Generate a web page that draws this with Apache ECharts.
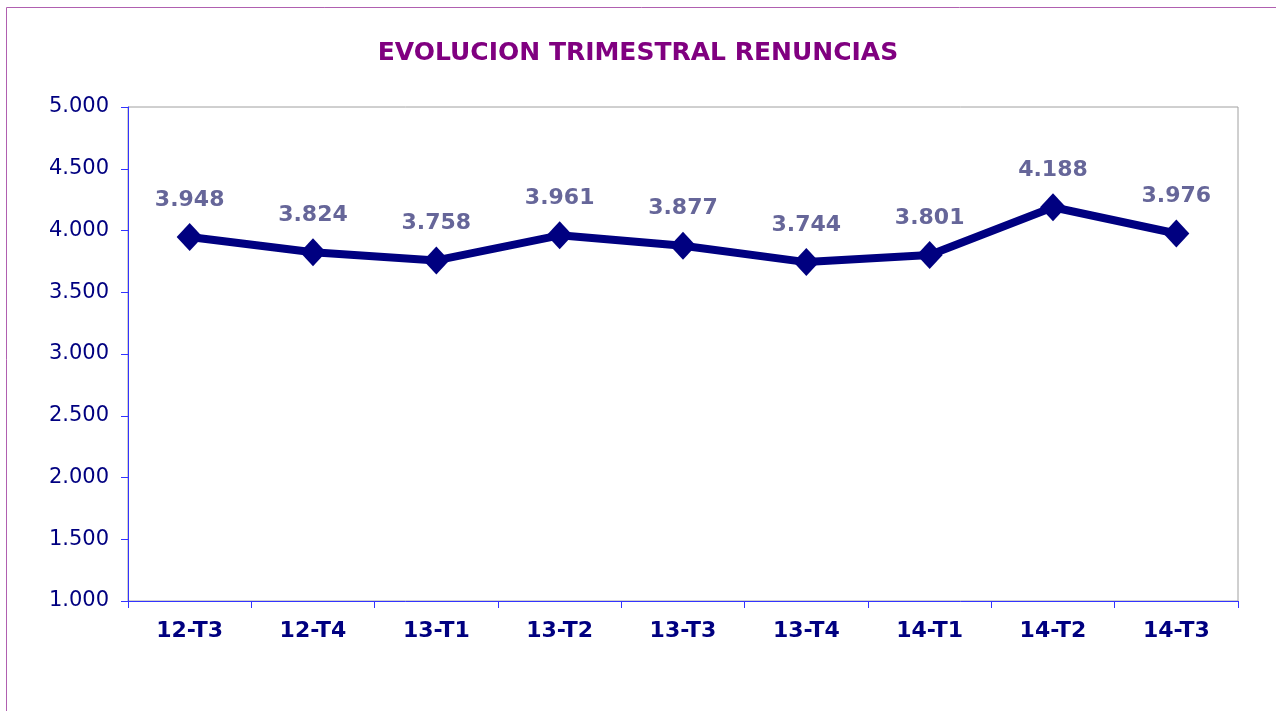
<!DOCTYPE html>
<html>
<head>
<meta charset="utf-8">
<script src="https://cdn.jsdelivr.net/npm/echarts@6/dist/echarts.min.js"></script>
<style>
  html, body { margin: 0; padding: 0; background: #fff; }
  #chart { width: 1276px; height: 711px; }
</style>
</head>
<body>
<div id="chart"></div>
<script>
// trimestres
const quarters = ['12-T3', '12-T4', '13-T1', '13-T2', '13-T3', '13-T4', '14-T1', '14-T2', '14-T3'];
// renuncias por trimestre
const renuncias = [3948, 3824, 3758, 3961, 3877, 3744, 3801, 4188, 3976];

const fmt = v => {
  // separador de miles con punto
  return String(v).replace(/\B(?=(\d{3})+(?!\d))/g, '.');
};

let chart = echarts.init(document.getElementById('chart'));

let option = {
  backgroundColor: '#fff',
  textStyle: { fontFamily: 'DejaVu Sans' },
  title: {
    text: 'EVOLUCION TRIMESTRAL RENUNCIAS',
    left: 'center',
    top: 36,
    textStyle: {
      color: '#800080',
      fontSize: 25,
      fontWeight: 'bold',
      fontFamily: 'DejaVu Sans'
    }
  },
  graphic: [
    {
      type: 'rect',
      shape: { x: 6.5, y: 7.5, width: 1280, height: 720 },
      style: { fill: 'none', stroke: '#b060b0', lineWidth: 1 },
      silent: true
    }
  ],
  grid: {
    left: 128,
    top: 107,
    right: 38,
    bottom: 110,
    show: true,
    borderColor: '#a0a0a0',
    borderWidth: 1,
    backgroundColor: 'transparent'
  },
  xAxis: {
    type: 'category',
    data: quarters,
    boundaryGap: true,
    axisLine: { lineStyle: { color: '#3333ff', width: 1 } },
    axisTick: { show: true, length: 7, inside: false, lineStyle: { color: '#3333ff' } },
    axisLabel: {
      color: '#000080',
      fontSize: 22,
      fontWeight: 'bold',
      margin: 19,
      fontFamily: 'DejaVu Sans'
    },
    splitLine: { show: false }
  },
  yAxis: {
    type: 'value',
    min: 1000,
    max: 5000,
    interval: 500,
    axisLine: { show: true, lineStyle: { color: '#3333ff', width: 1 } },
    axisTick: { show: true, length: 7, lineStyle: { color: '#3333ff' } },
    axisLabel: {
      color: '#000080',
      fontSize: 21,
      margin: 19,
      formatter: fmt,
      fontFamily: 'DejaVu Sans'
    },
    splitLine: { show: false }
  },
  series: [
    {
      name: 'Renuncias',
      type: 'line',
      data: renuncias,
      symbol: 'diamond',
      symbolSize: [26, 28],
      lineStyle: { color: '#000080', width: 8 },
      itemStyle: { color: '#000080' },
      label: {
        show: true,
        position: 'top',
        distance: 12,
        color: '#666699',
        fontSize: 22,
        fontWeight: 'bold',
        fontFamily: 'DejaVu Sans',
        formatter: p => fmt(p.value)
      },
      animation: false
    }
  ],
  animation: false
};

chart.setOption(option);
</script>
</body>
</html>
